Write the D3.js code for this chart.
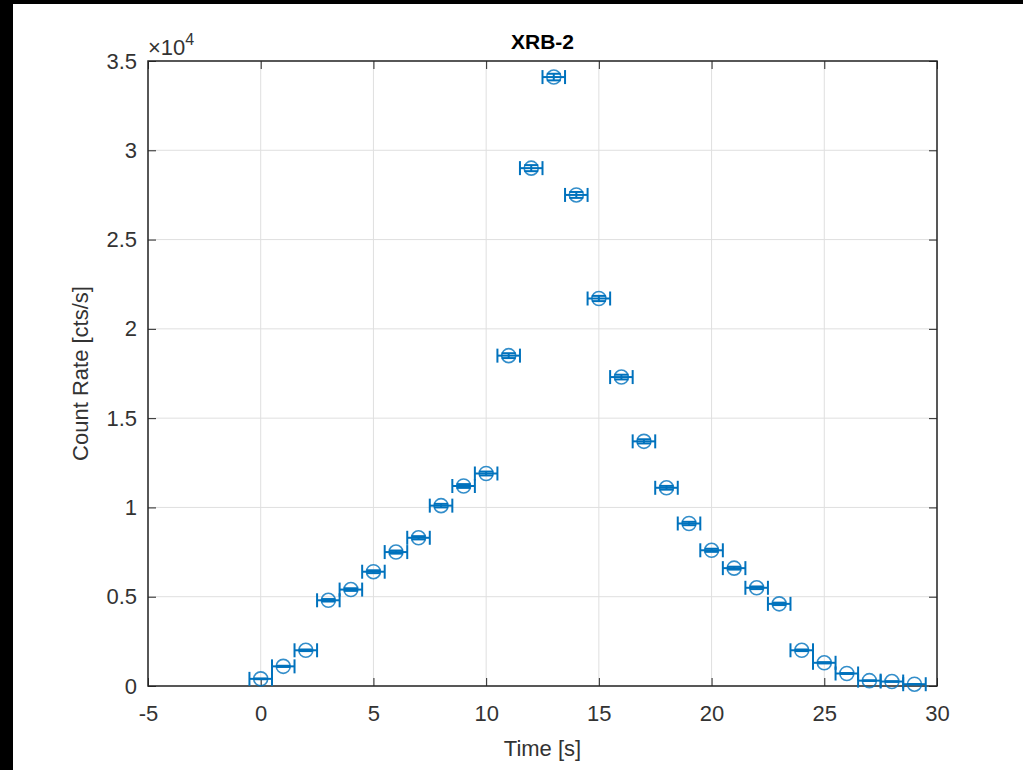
<!DOCTYPE html>
<html>
<head>
<meta charset="utf-8">
<script src="https://cdn.jsdelivr.net/npm/d3@7"></script>
<style>
  body { margin: 0; background: #fff; }
  svg { display: block; font-family: "Liberation Sans", Arial, sans-serif; }
</style>
</head>
<body>
<svg id="chart" width="1023" height="770"></svg>
<script>
// time bins [s]
var times = [0, 1, 2, 3, 4, 5, 6, 7, 8, 9, 10, 11, 12, 13, 14, 15, 16, 17, 18, 19, 20, 21, 22, 23, 24, 25, 26, 27, 28, 29];
// count rate [cts/s]
var rates = [400, 1100, 2000, 4800, 5400, 6400, 7500, 8300, 10100, 11200, 11900, 18500, 29000, 34100, 27500,
             21700, 17300, 13700, 11100, 9100, 7600, 6600, 5500, 4600, 2000, 1300, 700, 300, 250, 100];
// vertical errors [cts/s]
var rateErr = [20, 33, 45, 69, 73, 80, 87, 91, 100, 106, 109, 136, 170, 185, 166,
               147, 132, 117, 105, 95, 87, 81, 74, 68, 45, 36, 26, 17, 16, 10];
// horizontal errors [s]
var timeErr = [0.5, 0.5, 0.5, 0.5, 0.5, 0.5, 0.5, 0.5, 0.5, 0.5, 0.5, 0.5, 0.5, 0.5, 0.5,
               0.5, 0.5, 0.5, 0.5, 0.5, 0.5, 0.5, 0.5, 0.5, 0.5, 0.5, 0.5, 0.5, 0.5, 0.5];

var xTicks = [-5, 0, 5, 10, 15, 20, 25, 30];
var yTicks = [0, 5000, 10000, 15000, 20000, 25000, 30000, 35000];

(function () {
  var svg = d3.select('#chart'),
      pLeft = 148, pRight = 937, pTop = 61, pBottom = 686,
      blue = '#0072BD', axisColor = '#262626',
      font = '"Liberation Sans", Arial, sans-serif';

  // black screen borders
  svg.append('rect').attr('x', 0).attr('y', 0).attr('width', 1023).attr('height', 4).attr('fill', '#000');
  svg.append('rect').attr('x', 0).attr('y', 0).attr('width', 13).attr('height', 770).attr('fill', '#000');

  var x = d3.scaleLinear().domain([-5, 30]).range([pLeft, pRight]);
  var y = d3.scaleLinear().domain([0, 35000]).range([pBottom, pTop]);

  // grid
  var grid = svg.append('g').attr('stroke', '#dfdfdf').attr('stroke-width', 1);
  grid.selectAll('.gx').data(xTicks).enter().append('line')
    .attr('x1', function (d) { return x(d); }).attr('x2', function (d) { return x(d); })
    .attr('y1', pTop).attr('y2', pBottom);
  grid.selectAll('.gy').data(yTicks).enter().append('line')
    .attr('y1', function (d) { return y(d); }).attr('y2', function (d) { return y(d); })
    .attr('x1', pLeft).attr('x2', pRight);

  // axes (ticks inward)
  var fmtX = function (d) { return String(d); };
  var fmtY = function (d) { return String(d / 10000); };
  var xb = svg.append('g').attr('transform', 'translate(0,' + pBottom + ')')
    .call(d3.axisBottom(x).tickValues(xTicks).tickSizeInner(-8).tickSizeOuter(0).tickPadding(19).tickFormat(fmtX));
  var xt = svg.append('g').attr('transform', 'translate(0,' + pTop + ')')
    .call(d3.axisTop(x).tickValues(xTicks).tickSizeInner(-8).tickSizeOuter(0).tickFormat(''));
  var yl = svg.append('g').attr('transform', 'translate(' + pLeft + ',0)')
    .call(d3.axisLeft(y).tickValues(yTicks).tickSizeInner(-8).tickSizeOuter(0).tickPadding(11).tickFormat(fmtY));
  var yr = svg.append('g').attr('transform', 'translate(' + pRight + ',0)')
    .call(d3.axisRight(y).tickValues(yTicks).tickSizeInner(-8).tickSizeOuter(0).tickFormat(''));

  [xb, xt, yl, yr].forEach(function (g) {
    g.selectAll('.domain').remove();
    g.selectAll('line').attr('stroke', axisColor).attr('stroke-width', 1);
    g.selectAll('text').attr('fill', '#333').attr('font-size', 22).attr('font-family', font);
  });
  xb.selectAll('text').attr('dy', '0.71em');

  svg.append('rect').attr('x', pLeft).attr('y', pTop)
    .attr('width', pRight - pLeft).attr('height', pBottom - pTop)
    .attr('fill', 'none').attr('stroke', axisColor).attr('stroke-width', 1.5);

  // error bars
  var pts = times.map(function (t, i) {
    return { t: t, r: rates[i], ey: rateErr[i], ex: timeErr[i] };
  });
  var capH = 7, capV = 7;
  var eb = svg.append('g').attr('stroke', blue).attr('stroke-width', 2).attr('fill', 'none');
  var g = eb.selectAll('g').data(pts).enter().append('g');
  g.append('line')
    .attr('x1', function (d) { return x(d.t - d.ex); }).attr('x2', function (d) { return x(d.t + d.ex); })
    .attr('y1', function (d) { return y(d.r); }).attr('y2', function (d) { return y(d.r); });
  g.append('line')
    .attr('x1', function (d) { return x(d.t - d.ex); }).attr('x2', function (d) { return x(d.t - d.ex); })
    .attr('y1', function (d) { return y(d.r) - capH; }).attr('y2', function (d) { return y(d.r) + capH; });
  g.append('line')
    .attr('x1', function (d) { return x(d.t + d.ex); }).attr('x2', function (d) { return x(d.t + d.ex); })
    .attr('y1', function (d) { return y(d.r) - capH; }).attr('y2', function (d) { return y(d.r) + capH; });
  g.append('line')
    .attr('x1', function (d) { return x(d.t); }).attr('x2', function (d) { return x(d.t); })
    .attr('y1', function (d) { return y(d.r - d.ey); }).attr('y2', function (d) { return y(d.r + d.ey); });
  g.append('line')
    .attr('x1', function (d) { return x(d.t) - capV; }).attr('x2', function (d) { return x(d.t) + capV; })
    .attr('y1', function (d) { return y(d.r - d.ey); }).attr('y2', function (d) { return y(d.r - d.ey); });
  g.append('line')
    .attr('x1', function (d) { return x(d.t) - capV; }).attr('x2', function (d) { return x(d.t) + capV; })
    .attr('y1', function (d) { return y(d.r + d.ey); }).attr('y2', function (d) { return y(d.r + d.ey); });
  g.append('circle')
    .attr('cx', function (d) { return x(d.t); }).attr('cy', function (d) { return y(d.r); })
    .attr('r', 7).attr('stroke-width', 1.6).attr('stroke-opacity', 0.8);

  // labels
  svg.append('text').attr('x', (pLeft + pRight) / 2).attr('y', 49).attr('text-anchor', 'middle')
    .attr('font-size', 21).attr('font-weight', 'bold').attr('fill', '#000').text('XRB-2');
  svg.append('text').attr('x', (pLeft + pRight) / 2).attr('y', 756).attr('text-anchor', 'middle')
    .attr('font-size', 22).attr('fill', '#333').text('Time [s]');
  svg.append('text').attr('transform', 'translate(88,' + ((pTop + pBottom) / 2) + ') rotate(-90)')
    .attr('text-anchor', 'middle').attr('font-size', 22).attr('fill', '#333').text('Count Rate [cts/s]');

  var mult = svg.append('text').attr('x', 148).attr('y', 55).attr('font-size', 22).attr('fill', '#333');
  mult.append('tspan').text('\u00d710');
  mult.append('tspan').attr('dy', -10).attr('font-size', 16).text('4');
})();
</script>
</body>
</html>
